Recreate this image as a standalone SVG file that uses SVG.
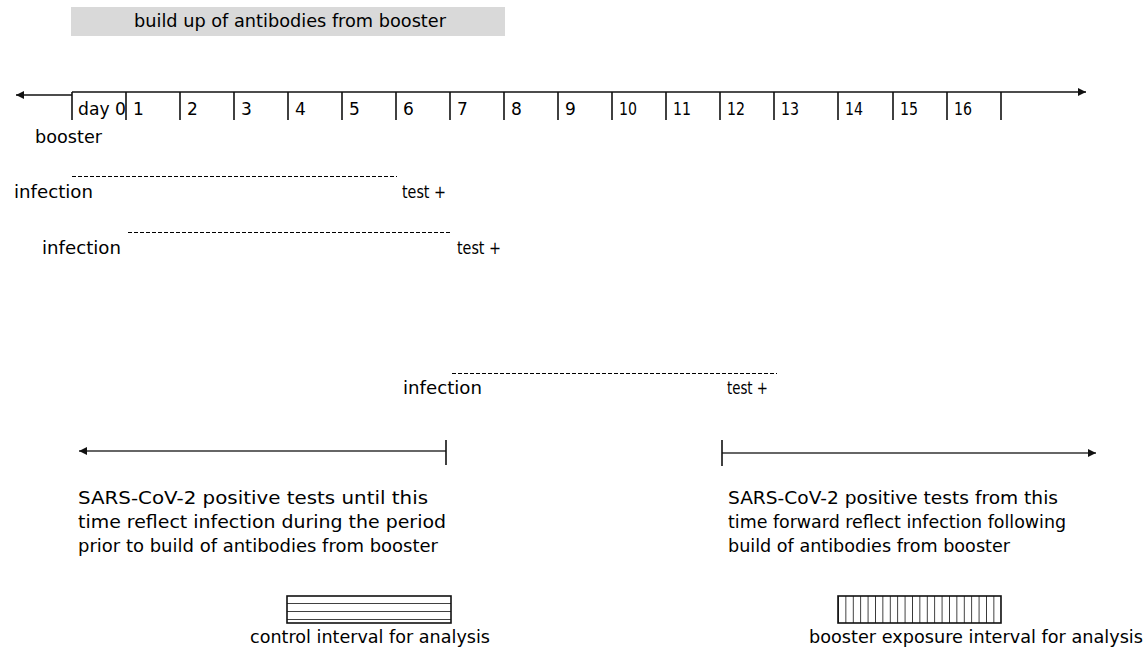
<svg xmlns="http://www.w3.org/2000/svg" width="1147" height="652" viewBox="0 0 1147 652">
<style>
text{font-family:"DejaVu Sans","Liberation Sans",sans-serif;font-size:17px;fill:#000}
.ax{stroke:#111;stroke-width:1.6;fill:none}
.tk{stroke:#111;stroke-width:1.6}
.dash{stroke:#000;stroke-width:1;stroke-dasharray:4 2;fill:none}
.ln{stroke:#333;stroke-width:1.6;fill:none}
</style>
<defs>
<marker id="ah" viewBox="0 0 10 10" refX="10" refY="5" markerWidth="10" markerHeight="8" markerUnits="userSpaceOnUse" orient="auto-start-reverse">
<path d="M0,0 L10,5 L0,10 z" fill="#111"/>
</marker>
<pattern id="hstripe" x="0" y="596" width="10" height="8" patternUnits="userSpaceOnUse">
<line x1="0" y1="8" x2="10" y2="8" stroke="#111" stroke-width="1.6"/>
</pattern>
<pattern id="vstripe" x="838" y="0" width="7.4" height="10" patternUnits="userSpaceOnUse">
<line x1="0" y1="0" x2="0" y2="10" stroke="#111" stroke-width="1.6"/>
</pattern>
</defs>

<g id="title">
<rect x="71" y="7" width="434" height="29" fill="#d9d9d9"/>
<text x="134" y="27" textLength="312" lengthAdjust="spacingAndGlyphs">build up of antibodies from booster</text>
</g>

<g id="timeline">
<line class="ax" x1="16" y1="95" x2="72" y2="95" marker-start="url(#ah)"/>
<line class="ax" x1="72" y1="92" x2="1086" y2="92" marker-end="url(#ah)"/>
<g class="tk">
<line x1="72" y1="92" x2="72" y2="120"/><line x1="126" y1="92" x2="126" y2="120"/>
<line x1="180" y1="92" x2="180" y2="120"/><line x1="234" y1="92" x2="234" y2="120"/>
<line x1="288" y1="92" x2="288" y2="120"/><line x1="342" y1="92" x2="342" y2="120"/>
<line x1="396" y1="92" x2="396" y2="120"/><line x1="450" y1="92" x2="450" y2="120"/>
<line x1="504" y1="92" x2="504" y2="120"/><line x1="558" y1="92" x2="558" y2="120"/>
<line x1="612" y1="92" x2="612" y2="120"/><line x1="666" y1="92" x2="666" y2="120"/>
<line x1="720" y1="92" x2="720" y2="120"/><line x1="774" y1="92" x2="774" y2="120"/>
<line x1="838" y1="92" x2="838" y2="120"/><line x1="893" y1="92" x2="893" y2="120"/>
<line x1="947" y1="92" x2="947" y2="120"/><line x1="1001" y1="92" x2="1001" y2="120"/>
</g>
<g id="day-labels">
<text x="78" y="115" textLength="48" lengthAdjust="spacingAndGlyphs">day 0</text>
<text x="133" y="115">1</text><text x="187" y="115">2</text><text x="241" y="115">3</text>
<text x="295" y="115">4</text><text x="349" y="115">5</text><text x="403" y="115">6</text>
<text x="457" y="115">7</text><text x="511" y="115">8</text><text x="565" y="115">9</text>
<text x="619" y="115" textLength="18" lengthAdjust="spacingAndGlyphs">10</text>
<text x="673" y="115" textLength="18" lengthAdjust="spacingAndGlyphs">11</text>
<text x="727" y="115" textLength="18" lengthAdjust="spacingAndGlyphs">12</text>
<text x="781" y="115" textLength="18" lengthAdjust="spacingAndGlyphs">13</text>
<text x="845" y="115" textLength="18" lengthAdjust="spacingAndGlyphs">14</text>
<text x="900" y="115" textLength="18" lengthAdjust="spacingAndGlyphs">15</text>
<text x="954" y="115" textLength="18" lengthAdjust="spacingAndGlyphs">16</text>
</g>
</g>

<g id="booster-label">
<text x="35" y="143" textLength="67" lengthAdjust="spacingAndGlyphs">booster</text>
</g>

<g id="infection-1">
<text x="14" y="198" textLength="79" lengthAdjust="spacingAndGlyphs">infection</text>
</g>
<g id="test-1">
<text x="402" y="198" textLength="44" lengthAdjust="spacingAndGlyphs">test +</text>
</g>
<g id="infection-2">
<text x="42" y="254" textLength="79" lengthAdjust="spacingAndGlyphs">infection</text>
</g>
<g id="test-2">
<text x="457" y="254" textLength="44" lengthAdjust="spacingAndGlyphs">test +</text>
</g>
<g id="infection-3">
<text x="403" y="394" textLength="79" lengthAdjust="spacingAndGlyphs">infection</text>
</g>
<g id="test-3">
<text x="727" y="394" textLength="41" lengthAdjust="spacingAndGlyphs">test +</text>
</g>

<g id="connectors">
<line class="dash" x1="72" y1="176.5" x2="397" y2="176.5"/>
<line class="dash" x1="128" y1="232.5" x2="452" y2="232.5"/>
<line class="dash" x1="452" y1="373.5" x2="777" y2="373.5"/>
<line class="ln" x1="446" y1="451" x2="79" y2="451" marker-end="url(#ah)"/>
<line class="tk" x1="446" y1="440" x2="446" y2="465"/>
<line class="ln" x1="722" y1="453" x2="1096" y2="453" marker-end="url(#ah)"/>
<line class="tk" x1="722" y1="440" x2="722" y2="466"/>
</g>

<g id="note-before">
<text x="78" y="504" textLength="350" lengthAdjust="spacingAndGlyphs">SARS-CoV-2 positive tests until this</text>
<text x="78" y="528" textLength="368" lengthAdjust="spacingAndGlyphs">time reflect infection during the period</text>
<text x="78" y="552" textLength="360" lengthAdjust="spacingAndGlyphs">prior to build of antibodies from booster</text>
</g>

<g id="note-after">
<text x="728" y="504" textLength="330" lengthAdjust="spacingAndGlyphs">SARS-CoV-2 positive tests from this</text>
<text x="728" y="528" textLength="338" lengthAdjust="spacingAndGlyphs">time forward reflect infection following</text>
<text x="728" y="552" textLength="282" lengthAdjust="spacingAndGlyphs">build of antibodies from booster</text>
</g>

<g id="control-interval">
<rect x="287" y="596" width="164" height="27" fill="url(#hstripe)" stroke="#111" stroke-width="1.6"/>
<text x="250" y="643" textLength="240" lengthAdjust="spacingAndGlyphs">control interval for analysis</text>
</g>

<g id="booster-interval">
<rect x="838" y="596" width="163" height="27" fill="url(#vstripe)" stroke="#111" stroke-width="1.6"/>
<text x="809" y="643" textLength="334" lengthAdjust="spacingAndGlyphs">booster exposure interval for analysis</text>
</g>
</svg>
